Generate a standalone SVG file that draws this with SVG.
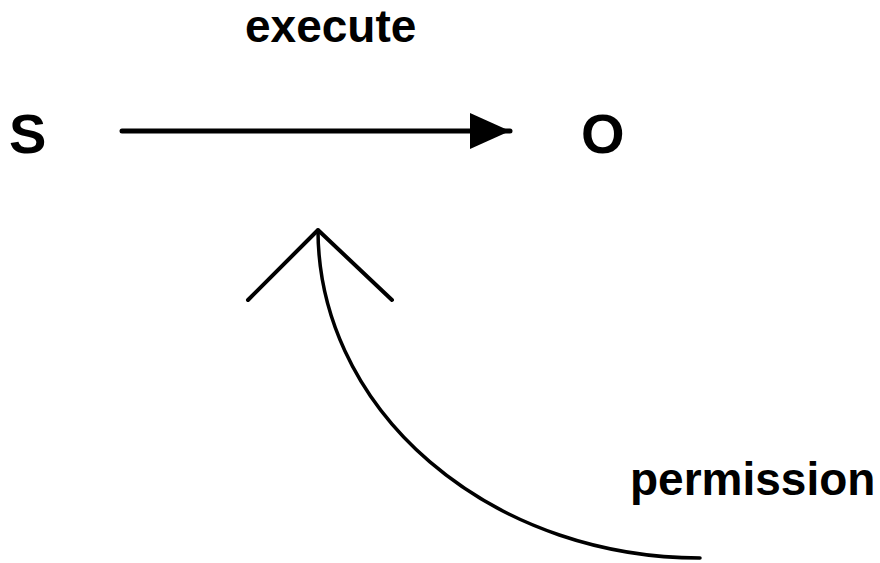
<svg xmlns="http://www.w3.org/2000/svg" width="880" height="563" viewBox="0 0 880 563">
<style>
.lbl{font-family:"Liberation Sans",Arial,sans-serif;font-weight:bold;fill:#000}
.node{font-size:56px}
.edge{font-size:46px}
.ln{fill:none;stroke:#000;stroke-linecap:round;stroke-linejoin:round}
</style>
<defs>
<marker id="tri" markerUnits="userSpaceOnUse" markerWidth="42" markerHeight="36" refX="40" refY="18" orient="auto">
<polygon points="0,0 40,18 0,36" fill="#000"/>
</marker>
</defs>
<rect width="880" height="563" fill="#fff"/>
<g id="node-S"><text class="lbl node" x="9" y="153">S</text></g>
<g id="node-O"><text class="lbl node" x="581" y="153">O</text></g>
<g id="connectors">
<g id="edge-execute">
<line class="ln" x1="122" y1="131" x2="510" y2="131" stroke-width="5" marker-end="url(#tri)"/>
<text class="lbl edge" x="245" y="42">execute</text>
</g>
<g id="edge-permission">
<path class="ln" d="M318,230 A382,328 0 0 0 700,558" stroke-width="3.5"/>
<polyline class="ln" points="248,300 318,230 392,300" stroke-width="4"/>
<text class="lbl edge" x="630" y="495">permission</text>
</g>
</g>
</svg>
